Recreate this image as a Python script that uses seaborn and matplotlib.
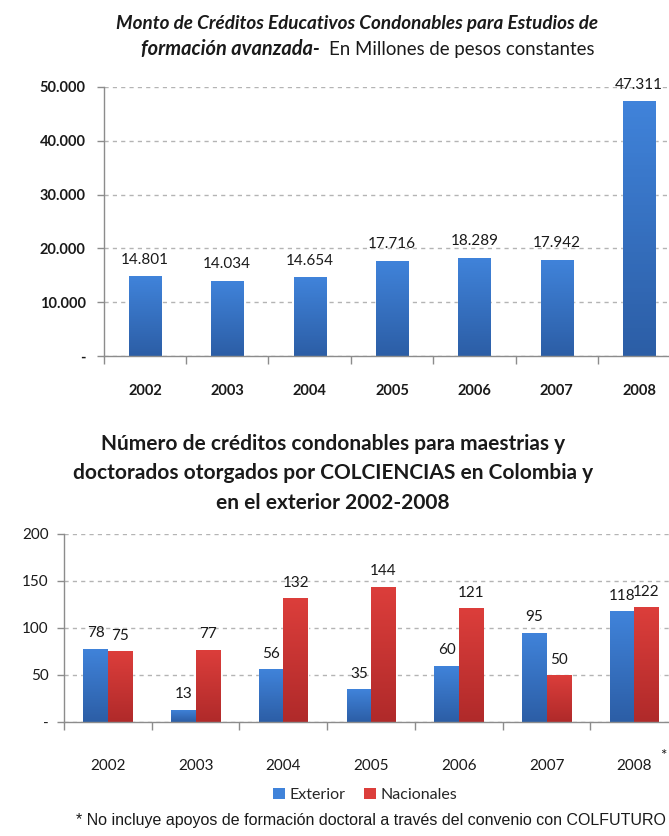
import numpy as np
import pandas as pd
import matplotlib
matplotlib.use("Agg")
import matplotlib.pyplot as plt
import seaborn as sns
from matplotlib.colors import LinearSegmentedColormap
from matplotlib.patches import Patch

# datos
years = ["2002", "2003", "2004", "2005", "2006", "2007", "2008"]
monto = [14801, 14034, 14654, 17716, 18289, 17942, 47311]
exterior = [78, 13, 56, 35, 60, 95, 118]
nacionales = [75, 77, 132, 144, 121, 50, 122]
series_names = ["Exterior", "Nacionales"]

sns.set_theme(style="white")
plt.rcParams["font.family"] = ["Lato", "DejaVu Sans"]

BLUE_TOP, BLUE_BOT = "#4083DA", "#2C5EA6"
RED_TOP, RED_BOT = "#DC3E3B", "#B02A2A"
GRID = "#B4B4B4"
TXT = "#1a1a1a"


def gradient_fill(ax, container, top, bottom):
    cmap = LinearSegmentedColormap.from_list("g", [bottom, top])
    xl, yl = ax.get_xlim(), ax.get_ylim()
    for p in container.patches:
        h = p.get_height()
        if h <= 0:
            continue
        x, y, w = p.get_x(), p.get_y(), p.get_width()
        grad = np.linspace(0, 1, 64).reshape(-1, 1)
        im = ax.imshow(grad, extent=[x, x + w, y, y + h], origin="lower",
                       aspect="auto", cmap=cmap, zorder=p.get_zorder() + 0.1)
        im.set_clip_path(p)
    ax.set_xlim(xl)
    ax.set_ylim(yl)


def style_axes(ax):
    for s in ["top", "right"]:
        ax.spines[s].set_visible(False)
    for s in ["left", "bottom"]:
        ax.spines[s].set_color("#8C8C8C")
        ax.spines[s].set_linewidth(1.0)
    ax.set_axisbelow(True)
    ax.yaxis.grid(True, linestyle=(0, (3, 3)), color=GRID, linewidth=1.0)
    ax.xaxis.grid(False)
    ax.set_xlabel("")
    ax.set_ylabel("")
    ax.set_xticks(np.arange(-0.5, 7, 1), minor=True)
    ax.tick_params(axis="x", which="minor", length=6, width=1, color="#8C8C8C", bottom=True)
    ax.tick_params(axis="y", which="major", length=5, width=1, color="#8C8C8C", left=True)


fig = plt.figure(figsize=(6.69, 8.36), dpi=100)

# ---------- grafico superior ----------
ax1 = fig.add_axes([0.155, 0.574, 0.862, 0.322])
df1 = pd.DataFrame({"year": years, "monto": monto})
sns.barplot(data=df1, x="year", y="monto", color=BLUE_BOT, width=0.39,
            saturation=1, ax=ax1)
ax1.set_xlim(-0.5, 6.5)
ax1.set_ylim(0, 50000)
style_axes(ax1)
ax1.set_yticks([0, 10000, 20000, 30000, 40000, 50000])
ax1.set_yticklabels(["-", "10.000", "20.000", "30.000", "40.000", "50.000"],
                    fontsize=10.5, fontweight="bold", color=TXT)
ax1.tick_params(axis="y", pad=8)
ax1.tick_params(axis="x", which="major", length=0, pad=20, labelsize=10.5)
for t in ax1.get_xticklabels():
    t.set_fontweight("bold")
    t.set_color(TXT)
gradient_fill(ax1, ax1.containers[0], BLUE_TOP, BLUE_BOT)
ax1.bar_label(ax1.containers[0],
              labels=[f"{v:,}".replace(",", ".") for v in monto],
              padding=7, fontsize=11, color=TXT)

fig.text(0.534, 0.972, "Monto de Créditos Educativos Condonables para Estudios de",
         ha="center", va="center", fontsize=13.6, fontweight="bold", style="italic", color=TXT)
fig.text(0.478, 0.941, "formación avanzada-", ha="right", va="center",
         fontsize=14.4, fontweight="bold", style="italic", color=TXT)
fig.text(0.492, 0.941, "En Millones de pesos constantes", ha="left", va="center",
         fontsize=13.4, color=TXT)

# ---------- grafico inferior ----------
ax2 = fig.add_axes([0.0957, 0.1364, 0.918, 0.2249])
df2 = pd.DataFrame({
    "year": years * 2,
    "tipo": [series_names[0]] * 7 + [series_names[1]] * 7,
    "creditos": exterior + nacionales,
})
sns.barplot(data=df2, x="year", y="creditos", hue="tipo",
            palette=[BLUE_BOT, RED_BOT], width=0.56, saturation=1,
            legend=False, ax=ax2)
ax2.set_xlim(-0.5, 6.5)
ax2.set_ylim(0, 200)
style_axes(ax2)
ax2.set_yticks([0, 50, 100, 150, 200])
ax2.set_yticklabels(["-", "50", "100", "150", "200"], fontsize=11, color=TXT)
ax2.tick_params(axis="y", pad=6)
ax2.tick_params(axis="x", which="major", length=0, pad=27, labelsize=11, labelcolor=TXT)
gradient_fill(ax2, ax2.containers[0], BLUE_TOP, BLUE_BOT)
gradient_fill(ax2, ax2.containers[1], RED_TOP, RED_BOT)
ax2.bar_label(ax2.containers[0], labels=[str(v) for v in exterior],
              padding=6, fontsize=11, color=TXT)
ax2.bar_label(ax2.containers[1], labels=[str(v) for v in nacionales],
              padding=6, fontsize=11, color=TXT)

fig.text(0.498, 0.469, "Número de créditos condonables para maestrias y",
         ha="center", va="center", fontsize=15, fontweight="bold", color=TXT)
fig.text(0.498, 0.434, "doctorados otorgados por COLCIENCIAS en Colombia y",
         ha="center", va="center", fontsize=15, fontweight="bold", color=TXT)
fig.text(0.498, 0.398, "en el exterior 2002-2008",
         ha="center", va="center", fontsize=15, fontweight="bold", color=TXT)
fig.text(0.991, 0.096, "*", ha="center", va="center", fontsize=11, color=TXT)

handles = [Patch(facecolor=BLUE_TOP, edgecolor="none"),
           Patch(facecolor=RED_TOP, edgecolor="none")]
fig.legend(handles, series_names, loc="center", bbox_to_anchor=(0.546, 0.049),
           ncol=2, frameon=False, fontsize=11.5, handlelength=0.7, handleheight=0.7,
           handletextpad=0.3, columnspacing=1.2)

fig.text(0.555, 0.019,
         "* No incluye apoyos de formación doctoral a través del convenio con COLFUTURO",
         ha="center", va="center", fontsize=11.5, family=["Liberation Sans"], color=TXT)

fig.savefig("out.png", dpi=100)
